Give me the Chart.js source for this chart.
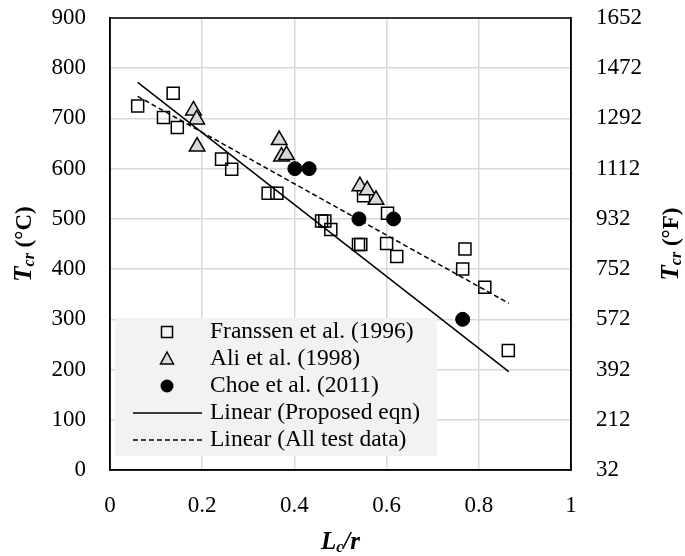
<!DOCTYPE html>
<html>
<head>
<meta charset="utf-8">
<script src="https://cdn.jsdelivr.net/npm/chart.js@4.4.1/dist/chart.umd.min.js"></script>
<style>
  body { margin: 0; background: #fff; }
  #wrap { width: 685px; height: 556px; }
</style>
</head>
<body>
<div id="wrap"><canvas id="myChart" width="685" height="556"></canvas></div>
<script>
// L_c/r vs T_cr data
const franssenX = [0.06, 0.116, 0.137, 0.146, 0.242, 0.264, 0.343, 0.362, 0.459, 0.466, 0.479, 0.539, 0.544, 0.55, 0.60, 0.602, 0.622, 0.765, 0.77, 0.813, 0.864];
const franssenY = [725, 702, 750, 682, 619, 599, 551, 551, 496, 496, 479, 449, 449, 546, 451, 511, 425, 400, 440, 364, 238];
const aliX = [0.181, 0.188, 0.189, 0.367, 0.372, 0.383, 0.542, 0.558, 0.577];
const aliY = [716, 698, 644, 657, 624, 627, 565, 557, 538];
const choeX = [0.401, 0.432, 0.54, 0.615, 0.765];
const choeY = [600, 600, 500, 500, 300];
const fitX = [0.06, 0.865];
const proposedY = [772, 196];
const allDataY = [744, 332];
const xTicks = [0, 0.2, 0.4, 0.6, 0.8, 1];
const fTicks = [32, 212, 392, 572, 752, 932, 1112, 1292, 1472, 1652];
const legendLabels = ['Franssen et al. (1996)', 'Ali et al. (1998)', 'Choe et al. (2011)', 'Linear (Proposed eqn)', 'Linear (All test data)'];

const FONT = '"Liberation Serif", "Times New Roman", serif';

function pts(xs, ys) {
  return xs.map((x, i) => ({ x: x, y: ys[i] }));
}

// centred run of text pieces [text, font, dy]
function richText(ctx, runs, cx, cy) {
  let total = 0;
  runs.forEach(r => { ctx.font = r[1]; total += ctx.measureText(r[0]).width; });
  let x = cx - total / 2;
  ctx.textAlign = 'left';
  ctx.textBaseline = 'middle';
  runs.forEach(r => {
    ctx.font = r[1];
    ctx.fillText(r[0], x, cy + r[2]);
    x += ctx.measureText(r[0]).width;
  });
}

const extras = {
  id: 'extras',
  afterDraw(chart) {
    const ctx = chart.ctx;
    const a = chart.chartArea;
    ctx.save();
    ctx.strokeStyle = '#000';
    ctx.lineWidth = 1.5;
    ctx.strokeRect(a.left, a.top, a.right - a.left, a.bottom - a.top);

    // legend
    const lx = 115, ly = 318, lw = 322, lh = 138;
    ctx.fillStyle = '#f2f2f2';
    ctx.fillRect(lx, ly, lw, lh);
    const rows = [332, 359, 386, 413, 440];
    const mx = 167;
    ctx.lineWidth = 1.5;
    ctx.strokeStyle = '#000';
    ctx.strokeRect(mx - 5.5, rows[0] - 5.5, 11, 11);
    ctx.beginPath();
    ctx.moveTo(mx, rows[1] - 7);
    ctx.lineTo(mx + 6.5, rows[1] + 5);
    ctx.lineTo(mx - 6.5, rows[1] + 5);
    ctx.closePath();
    ctx.fillStyle = '#d9d9d9';
    ctx.fill();
    ctx.stroke();
    ctx.beginPath();
    ctx.arc(mx, rows[2], 6.5, 0, Math.PI * 2);
    ctx.fillStyle = '#000';
    ctx.fill();
    ctx.beginPath();
    ctx.moveTo(133, rows[3]);
    ctx.lineTo(202, rows[3]);
    ctx.stroke();
    ctx.setLineDash([5, 3]);
    ctx.beginPath();
    ctx.moveTo(133, rows[4]);
    ctx.lineTo(202, rows[4]);
    ctx.stroke();
    ctx.setLineDash([]);
    ctx.fillStyle = '#000';
    ctx.font = '23.5px ' + FONT;
    ctx.textAlign = 'left';
    ctx.textBaseline = 'middle';
    legendLabels.forEach((t, i) => ctx.fillText(t, 210, rows[i]));

    // axis titles
    const bi = 'italic bold 25px ' + FONT;
    const bs = 'italic bold 16px ' + FONT;
    const b = 'bold 23px ' + FONT;
    ctx.fillStyle = '#000';
    richText(ctx, [['L', bi, 0], ['c', bs, 5], ['/r', bi, 0]], (a.left + a.right) / 2, 543);

    ctx.save();
    ctx.translate(25, (a.top + a.bottom) / 2);
    ctx.rotate(-Math.PI / 2);
    richText(ctx, [['T', bi, 0], ['cr', bs, 5], [' (°C)', b, 0]], 0, 0);
    ctx.restore();

    ctx.save();
    ctx.translate(672, (a.top + a.bottom) / 2);
    ctx.rotate(-Math.PI / 2);
    richText(ctx, [['T', bi, 0], ['cr', bs, 5], [' (°F)', b, 0]], 0, 0);
    ctx.restore();

    ctx.restore();
  }
};

const data = {
  datasets: [
    {
      label: legendLabels[0],
      data: pts(franssenX, franssenY),
      pointStyle: 'rect',
      pointRadius: 8.5,
      backgroundColor: 'rgba(0,0,0,0)',
      borderColor: '#000',
      borderWidth: 1.5,
      order: 4
    },
    {
      label: legendLabels[1],
      data: pts(aliX, aliY),
      pointStyle: 'triangle',
      pointRadius: 9,
      backgroundColor: '#d9d9d9',
      borderColor: '#000',
      borderWidth: 1.5,
      order: 3
    },
    {
      label: legendLabels[2],
      data: pts(choeX, choeY),
      pointStyle: 'circle',
      pointRadius: 7,
      backgroundColor: '#000',
      borderColor: '#000',
      borderWidth: 1,
      order: 2
    },
    {
      label: legendLabels[3],
      data: pts(fitX, proposedY),
      showLine: true,
      pointRadius: 0,
      borderColor: '#000',
      borderWidth: 1.5,
      order: 1
    },
    {
      label: legendLabels[4],
      data: pts(fitX, allDataY),
      showLine: true,
      pointRadius: 0,
      borderColor: '#000',
      borderWidth: 1.5,
      borderDash: [5, 3],
      order: 0
    }
  ]
};

const tickFont = { family: FONT, size: 23 };

// keep the vertical axes from pushing the plot box down
function fixVertical(width) {
  return s => {
    s.width = width;
    s.paddingTop = 0;
    s.paddingBottom = 0;
  };
}

const config = {
  type: 'scatter',
  data: data,
  options: {
    responsive: false,
    animation: false,
    layout: { padding: { top: 18, left: 0, right: 0, bottom: 0 } },
    plugins: { legend: { display: false }, tooltip: { enabled: false } },
    scales: {
      x: {
        type: 'linear',
        min: 0,
        max: 1,
        afterBuildTicks: s => { s.ticks = xTicks.map(v => ({ value: v })); },
        afterFit: s => { s.height = 86; s.paddingLeft = 0; s.paddingRight = 0; },
        ticks: { font: tickFont, color: '#000', padding: 22, maxRotation: 0, callback: v => String(v) },
        grid: { color: '#d9d9d9', lineWidth: 1.5, drawTicks: false },
        border: { color: '#000', width: 1.5 }
      },
      y: {
        type: 'linear',
        position: 'left',
        min: 0,
        max: 900,
        ticks: { stepSize: 100, font: tickFont, color: '#000', padding: 24 },
        afterFit: fixVertical(110),
        grid: { color: '#d9d9d9', lineWidth: 1.5, drawTicks: false },
        border: { color: '#000', width: 1.5 }
      },
      y2: {
        type: 'linear',
        position: 'right',
        min: 32,
        max: 1652,
        afterBuildTicks: s => { s.ticks = fTicks.map(v => ({ value: v })); },
        ticks: { font: tickFont, color: '#000', padding: 25, callback: v => String(v) },
        afterFit: fixVertical(114),
        grid: { display: false, drawTicks: false },
        border: { color: '#000', width: 1.5 }
      }
    }
  },
  plugins: [extras]
};

const myChart = new Chart(document.getElementById('myChart'), config);
</script>
</body>
</html>
